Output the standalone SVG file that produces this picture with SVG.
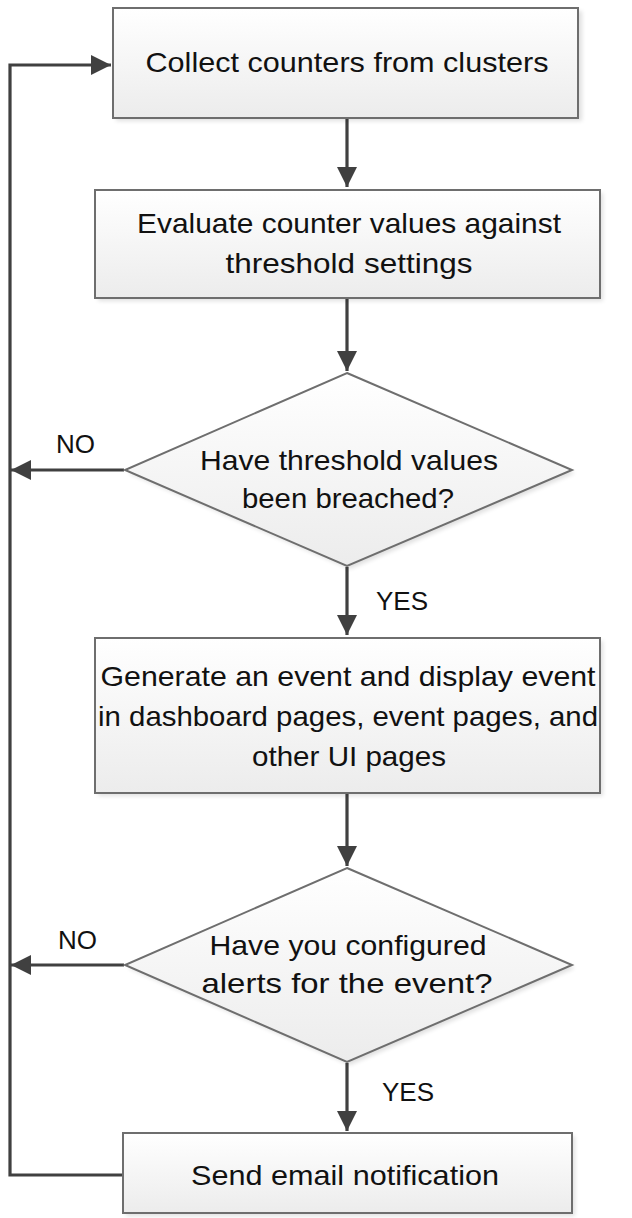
<svg xmlns="http://www.w3.org/2000/svg" width="632" height="1218" viewBox="0 0 632 1218">
<style>
.shape{fill:url(#g);stroke:#6e6e6e;stroke-width:2}
.shadow{fill:#000;opacity:0.12;filter:url(#blur)}
.t{font-family:"Liberation Sans",Arial,sans-serif;font-size:28px;fill:#111;text-anchor:middle;dominant-baseline:central}
.lbl{font-family:"Liberation Sans",Arial,sans-serif;font-size:26px;fill:#111}
.c{fill:none;stroke:#404040;stroke-width:3.2}
</style>
<defs>
<linearGradient id="g" x1="0" y1="0" x2="0" y2="1">
<stop offset="0" stop-color="#ffffff"/>
<stop offset="1" stop-color="#ececec"/>
</linearGradient>
<filter id="blur" x="-10%" y="-10%" width="120%" height="120%"><feGaussianBlur stdDeviation="2"/></filter>
<marker id="a" markerWidth="22" markerHeight="22" viewBox="0 0 22 22" refX="20" refY="11" orient="auto" markerUnits="userSpaceOnUse">
<path d="M0,1 L20,11 L0,21 Z" fill="#404040"/>
</marker>
</defs>
<g id="connectors">
<path class="c" d="M347,119 V187" marker-end="url(#a)"/>
<path class="c" d="M347,298 V371" marker-end="url(#a)"/>
<path class="c" d="M347,567 V635" marker-end="url(#a)"/>
<path class="c" d="M347,794 V866" marker-end="url(#a)"/>
<path class="c" d="M347,1063 V1131" marker-end="url(#a)"/>
<path class="c" d="M124,470 H11" marker-end="url(#a)"/>
<path class="c" d="M124,965 H11" marker-end="url(#a)"/>
<path class="c" d="M122,1175 H10 V65 H111" marker-end="url(#a)"/>
<text class="lbl" x="56" y="453">NO</text>
<text class="lbl" x="58" y="949">NO</text>
<text class="lbl" x="376" y="610">YES</text>
<text class="lbl" x="382" y="1101">YES</text>
</g>
<g id="n1">
<rect class="shadow" x="116" y="11" width="466" height="110"/>
<rect class="shape" x="113" y="8" width="465" height="110"/>
<text class="t" x="347" y="62" textLength="403" lengthAdjust="spacingAndGlyphs">Collect counters from clusters</text>
</g>
<g id="n2">
<rect class="shadow" x="98" y="193" width="505" height="108"/>
<rect class="shape" x="95" y="190" width="505" height="108"/>
<text class="t" x="349" y="223" textLength="424" lengthAdjust="spacingAndGlyphs">Evaluate counter values against</text>
<text class="t" x="349" y="263" textLength="247" lengthAdjust="spacingAndGlyphs">threshold settings</text>
</g>
<g id="d1">
<polygon class="shadow" points="350,376 575,473 350,569 128,473"/>
<polygon class="shape" points="347,373 572,470 347,566 125,470"/>
<text class="t" x="349" y="460" textLength="298" lengthAdjust="spacingAndGlyphs">Have threshold values</text>
<text class="t" x="348" y="498" textLength="212" lengthAdjust="spacingAndGlyphs">been breached?</text>
</g>
<g id="n3">
<rect class="shadow" x="98" y="641" width="505" height="155"/>
<rect class="shape" x="95" y="638" width="505" height="155"/>
<text class="t" x="348" y="676" textLength="495" lengthAdjust="spacingAndGlyphs">Generate an event and display event</text>
<text class="t" x="348" y="716" textLength="500" lengthAdjust="spacingAndGlyphs">in dashboard pages, event pages, and</text>
<text class="t" x="349" y="756" textLength="194" lengthAdjust="spacingAndGlyphs">other UI pages</text>
</g>
<g id="d2">
<polygon class="shadow" points="350,871 575,968 350,1065 128,968"/>
<polygon class="shape" points="347,868 572,965 347,1062 125,965"/>
<text class="t" x="348" y="945" textLength="277" lengthAdjust="spacingAndGlyphs">Have you configured</text>
<text class="t" x="347" y="983" textLength="291" lengthAdjust="spacingAndGlyphs">alerts for the event?</text>
</g>
<g id="n4">
<rect class="shadow" x="126" y="1136" width="449" height="80"/>
<rect class="shape" x="123" y="1133" width="449" height="80"/>
<text class="t" x="345" y="1175" textLength="308" lengthAdjust="spacingAndGlyphs">Send email notification</text>
</g>
</svg>
